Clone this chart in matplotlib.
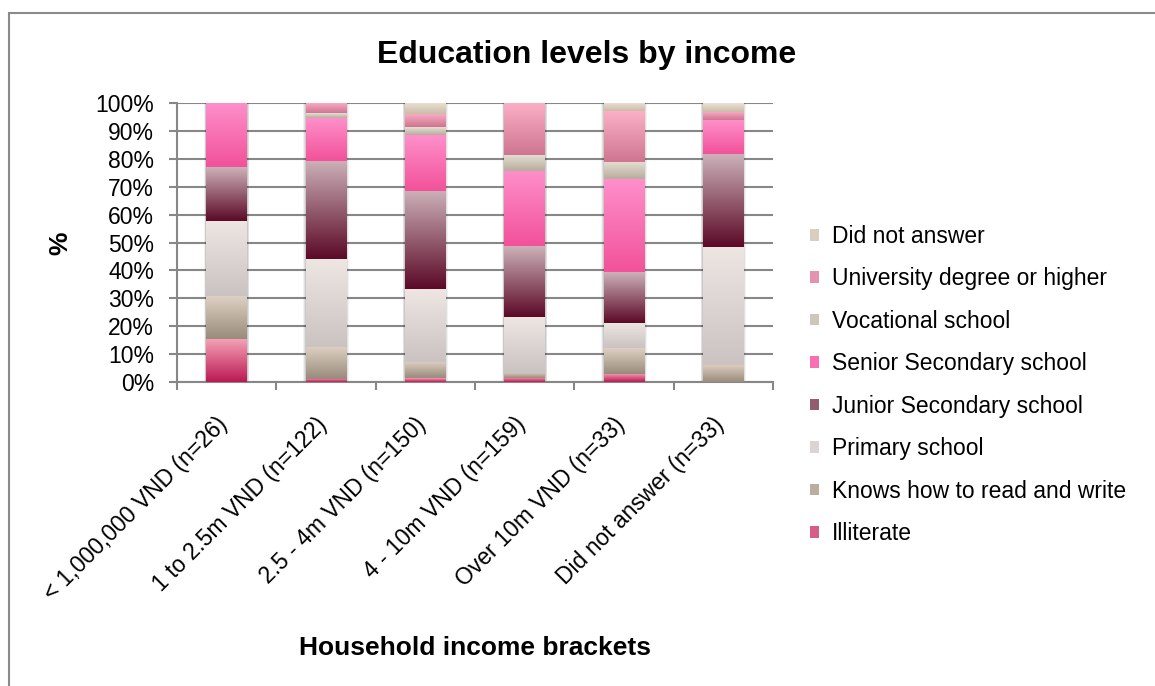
import numpy as np
import matplotlib
matplotlib.use("Agg")
from matplotlib import pyplot as plt
from matplotlib.colors import LinearSegmentedColormap
from matplotlib.patches import Rectangle, Patch
from matplotlib.transforms import ScaledTranslation

plt.rcParams['font.family'] = ['Liberation Sans', 'DejaVu Sans']

brackets = ["< 1,000,000 VND (n=26)", "1 to 2.5m VND (n=122)", "2.5 - 4m VND (n=150)",
            "4 - 10m VND (n=159)", "Over 10m VND (n=33)", "Did not answer (n=33)"]

levels = ["Illiterate", "Knows how to read and write", "Primary school",
          "Junior Secondary school", "Senior Secondary school", "Vocational school",
          "University degree or higher", "Did not answer"]

# percent of each income bracket, bottom segment first
illiterate = [15.4, 1.2, 1.3, 1.6, 3.0, 0.0]
read_write = [15.4, 11.5, 6.0, 1.8, 9.1, 6.1]
primary = [26.9, 31.3, 26.0, 20.0, 9.1, 42.4]
junior_sec = [19.2, 35.3, 35.3, 25.2, 18.2, 33.3]
senior_sec = [23.1, 15.4, 20.0, 26.9, 33.3, 12.1]
vocational = [0.0, 1.6, 2.7, 5.8, 6.1, 0.0]
university = [0.0, 3.7, 4.7, 18.7, 18.2, 3.0]
no_answer = [0.0, 0.0, 4.0, 0.0, 3.0, 3.0]

series = [illiterate, read_write, primary, junior_sec, senior_sec,
          vocational, university, no_answer]

# (top, bottom) colour of each segment's fill gradient
shades = [("#f3a0b5", "#bb1a53"), ("#ddd0c2", "#9a8c7c"), ("#ede6e3", "#cbc3c1"),
          ("#ccb0b8", "#5c0a27"), ("#fe8fca", "#f2529a"), ("#e5dfd3", "#b7ad9d"),
          ("#fbb0c6", "#cf7592"), ("#ece1d5", "#cbbca9")]

fig = plt.figure(figsize=(11.55, 6.86), dpi=100)
ax = fig.add_axes([0.1532, 0.4431, 0.516, 0.4068])

grey = "#878787"
x = np.arange(len(brackets))
width = 0.41
ramp = np.linspace(0, 1, 64).reshape(-1, 1)

bottom = np.zeros(len(brackets))
for vals, (top_c, bot_c) in zip(series, shades):
    vals = np.array(vals)
    bars = ax.bar(x, vals, width, bottom=bottom, facecolor="none", edgecolor="none", zorder=3)
    cmap = LinearSegmentedColormap.from_list("seg", [top_c, bot_c])
    for patch, v in zip(bars.patches, vals):
        if v <= 0:
            continue
        bb = patch.get_bbox()
        img = ax.imshow(ramp, cmap=cmap, aspect="auto", origin="upper",
                        extent=(bb.x0, bb.x1, bb.y0, bb.y1), zorder=3, interpolation="bilinear")
        img.set_clip_path(patch)
    bottom += vals

# soft shadow behind each column
for xi, total in zip(x, bottom):
    for k, a in zip([0.06, 0.04, 0.02], [0.05, 0.07, 0.10]):
        ax.add_patch(Rectangle((xi - width / 2 - k * 0.4, -0.4), width + k * 0.8, total + 0.4 + k * 8,
                               facecolor="#000000", alpha=a, edgecolor="none", zorder=2))

ax.set_xlim(-0.5, len(brackets) - 0.5)
ax.set_ylim(0, 100)
ax.set_yticks(np.arange(0, 101, 10))
ax.set_yticklabels([f"{v}%" for v in range(0, 101, 10)], fontsize=16.5)
ax.yaxis.grid(True, color=grey, linewidth=1.5, zorder=0)
ax.set_axisbelow(True)

ax.set_xticks(x)
ax.set_xticklabels(brackets, rotation=45, ha="right", va="top", rotation_mode="anchor", fontsize=16.5)
ax.tick_params(axis="x", length=0, pad=10)
shift = ScaledTranslation(-11 / 100, -17 / 100, fig.dpi_scale_trans)
for lbl in ax.get_xticklabels():
    lbl.set_transform(lbl.get_transform() + shift)
ax.set_xticks(np.arange(-0.5, len(brackets), 1), minor=True)
ax.tick_params(axis="x", which="minor", length=6, width=1.5, color=grey)
ax.tick_params(axis="y", length=6, width=1.5, color=grey, pad=10.5)

for side in ["top", "right"]:
    ax.spines[side].set_visible(False)
for side in ["left", "bottom"]:
    ax.spines[side].set_color(grey)
    ax.spines[side].set_linewidth(1.5)

fig.text(0.508, 0.920, "Education levels by income", ha="center", va="center",
         fontsize=23, fontweight="bold")
fig.text(0.411, 0.056, "Household income brackets", ha="center", va="center",
         fontsize=19, fontweight="bold")
fig.text(0.052, 0.646, "%", ha="center", va="center", rotation=90,
         fontsize=19, fontweight="bold")

handles = [Patch(facecolor=LinearSegmentedColormap.from_list("h", s)(0.5), edgecolor="none")
           for s in shades]
fig.legend(handles[::-1], levels[::-1], loc="upper left", bbox_to_anchor=(0.6935, 0.6855),
           frameon=False, fontsize=16.5, handlelength=0.4, handleheight=0.4,
           handletextpad=0.55, labelspacing=0.85, borderaxespad=0)

# chart frame
fig.patches.append(Rectangle((0.0078, -0.05), 1.2, 0.981 + 0.05, transform=fig.transFigure,
                             fill=False, edgecolor="#8a8a8a", linewidth=1.5))

fig.savefig("out.png", dpi=100)
